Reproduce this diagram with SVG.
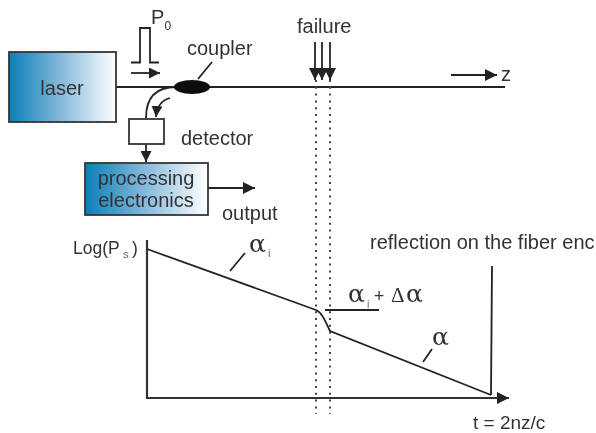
<svg xmlns="http://www.w3.org/2000/svg" width="596" height="433" viewBox="0 0 596 433">
<style>
text{font-family:"Liberation Sans",Arial,sans-serif;fill:#333;font-size:20px}
.l{fill:none;stroke:#222;stroke-width:1.8}
.a{fill:none;stroke:#333;stroke-width:2.2}
.d{fill:none;stroke:#444;stroke-width:2;stroke-dasharray:2 4.8}
.box{stroke:#333;stroke-width:1.8}
text.g{font-family:"DejaVu Serif",serif;font-size:25px}
text.s{font-size:11px;fill:#666}
text.sm{font-size:17.5px}
text.n{font-size:12px}
text.t{font-size:19px}
text.dl{font-family:"Liberation Serif",serif;font-size:21px}
g{filter:url(#b)}
</style>
<defs>
<filter id="b" x="-5%" y="-5%" width="110%" height="110%"><feGaussianBlur stdDeviation="0.35"/></filter>
<linearGradient id="g1" x1="0" x2="1" y1="0" y2="0"><stop offset="0" stop-color="#0a7fb8"/><stop offset="0.45" stop-color="#7db4d8"/><stop offset="1" stop-color="#fff"/></linearGradient>
<marker id="ah" viewBox="0 0 10 10" refX="10" refY="5" markerWidth="11" markerHeight="11" markerUnits="userSpaceOnUse" orient="auto"><path d="M0 0L10 5L0 10z" fill="#222"/></marker>
<marker id="big" viewBox="0 0 10 10" refX="10" refY="5" markerWidth="12" markerHeight="12" markerUnits="userSpaceOnUse" orient="auto"><path d="M0 0L10 5L0 10z" fill="#222"/></marker>
</defs>
<g id="connectors">
<path class="l" d="M116 87H505"/>
<path class="l" d="M146 118C146 98 155 87 176 87"/>
<path class="l" d="M170 98C162 100 157 106 156 117" marker-end="url(#ah)"/>
<path class="l" d="M146 144V162" marker-end="url(#ah)"/>
<path class="l" d="M208 188H255" marker-end="url(#big)"/>
<path class="l" d="M131 62.5H140V28H150V62.5H159" stroke-width="1.5"/>
<path class="l" d="M131 73H160" marker-end="url(#ah)"/>
<path class="l" d="M198 79L212 62" stroke-width="1.5"/>
<path class="l" d="M451 75H497" marker-end="url(#big)"/>
<path class="l" d="M315 42V80" marker-end="url(#big)"/>
<path class="l" d="M322 42V80" marker-end="url(#big)"/>
<path class="l" d="M330 42V80" marker-end="url(#big)"/>
<path class="d" d="M316 80V414"/>
<path class="d" d="M330 80V414"/>
<path class="a" d="M147 240V398H509" marker-end="url(#big)"/>
<path class="l" d="M147 249L316 310C321 312 324 318 330 331L491 395" stroke-width="2"/>
<path class="l" d="M491 395L492 266" stroke-width="2.6"/>
<path class="l" d="M230 271L245 253"/>
<path class="l" d="M325 310H379"/>
<path class="l" d="M423 362L432 349"/>
</g>
<g id="laser"><rect class="box" x="9" y="52" width="107" height="70" fill="url(#g1)"/><text x="62" y="95" text-anchor="middle">laser</text></g>
<g id="coupler"><ellipse cx="192" cy="87" rx="18" ry="7" fill="#111"/><text x="187" y="55">coupler</text></g>
<g id="detector"><rect class="box" x="129" y="119" width="35" height="25" fill="#fff"/><text x="181" y="145">detector</text></g>
<g id="processing"><rect class="box" x="85" y="163" width="123" height="52" fill="url(#g1)"/><text x="146" y="185" text-anchor="middle">processing</text><text x="146" y="207" text-anchor="middle">electronics</text></g>
<g id="labels">
<text x="151" y="24">P</text><text x="164.500" y="30" class="n">0</text>
<text x="297" y="33">failure</text>
<text x="501" y="81">z</text>
<text x="222" y="220">output</text>
<text x="73" y="254" class="sm">Log(P</text><text x="123" y="258" class="s">s</text><text x="132" y="254" class="sm">)</text>
<text x="249" y="252" class="g">α</text><text x="268" y="257" class="s">i</text>
<text x="348" y="302" class="g">α</text><text x="367" y="308" class="s">i</text><text x="374" y="302" class="sm">+</text><text x="391" y="302" class="dl">Δ</text><text x="406" y="302" class="g">α</text>
<text x="432" y="345" class="g">α</text>
<text x="370" y="249">reflection on the fiber enc</text>
<text x="473" y="429" class="t">t = 2nz/c</text>
</g>
</svg>
